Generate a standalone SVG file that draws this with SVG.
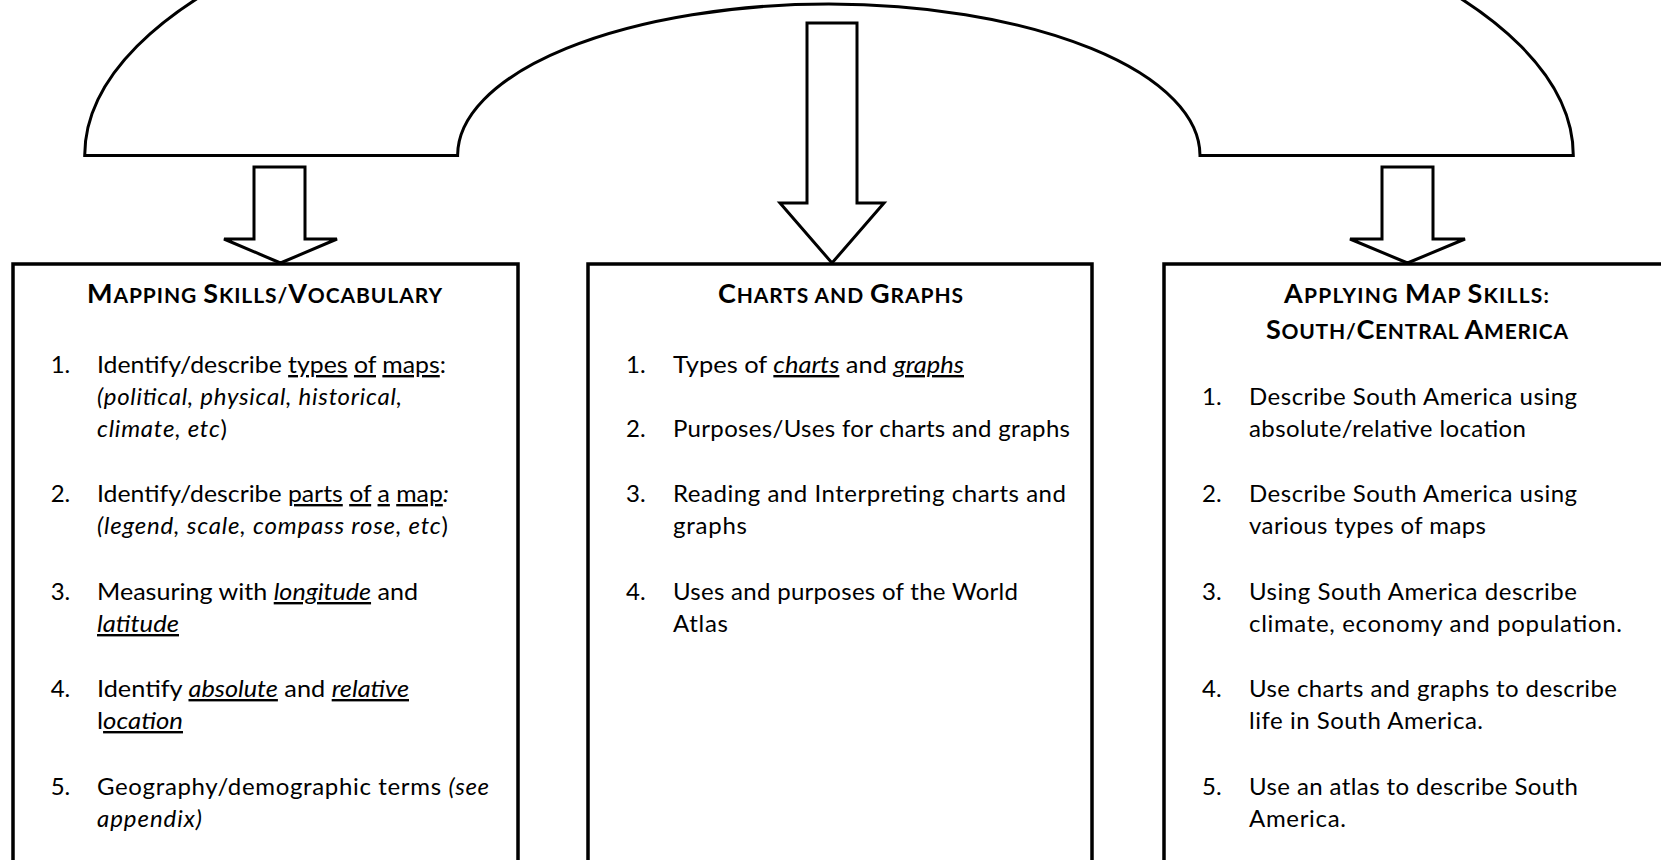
<svg xmlns="http://www.w3.org/2000/svg" width="1661" height="860" viewBox="0 0 1661 860">
<style>
  .line { fill: #fff; stroke: #000; stroke-width: 3; stroke-linejoin: miter; }
  .box { fill: #fff; stroke: #000; stroke-width: 3.5; }
  text { font-family: Lato, "Open Sans", "Liberation Sans", sans-serif; fill: #000; }
  .t { font-size: 24px; }
  .h { font-weight: bold; text-anchor: middle; }
  .cap { font-size: 27px; }
  .sc { font-size: 21px; }
  .i { font-style: italic; }
  .u { text-decoration: underline; }
</style>
<rect width="1661" height="860" fill="#fff"/>
<g id="connectors">
  <path id="brace" class="line" d="M 84.7 155.5 A 744 296.6 0 0 1 1573.3 155.5 L 1200 155.5 A 371.2 151.5 0 0 0 457.6 155.5 Z"/>
  <polygon id="arrow-left" class="line" points="254,167 305,167 305,239 337,239 280.5,263 224,239 254,239"/>
  <polygon id="arrow-mid" class="line" points="807,23 857,23 857,203 884,203 832,263 780,203 807,203"/>
  <polygon id="arrow-right" class="line" points="1382,167 1433,167 1433,239 1465,239 1407.5,263 1350,239 1382,239"/>
</g>
<g id="node-mapping">
  <rect class="box" x="13" y="264" width="505" height="610"/>
  <text class="h" x="264.5" y="302.7" textLength="355" lengthAdjust="spacing"><tspan class="cap">M</tspan><tspan class="sc">APPING </tspan><tspan class="cap">S</tspan><tspan class="sc">KILLS/</tspan><tspan class="cap">V</tspan><tspan class="sc">OCABULARY</tspan></text>
  <g class="t">
    <text x="50.7" y="373">1.</text>
    <text x="97" y="373" textLength="349" lengthAdjust="spacingAndGlyphs">Identify/describe <tspan class="u">types</tspan> <tspan class="u">of</tspan> <tspan class="u">maps</tspan>:</text>
    <text x="97" y="405" class="i" textLength="305" lengthAdjust="spacing">(political, physical, historical,</text>
    <text x="97" y="437" textLength="130" lengthAdjust="spacing"><tspan class="i">climate, etc</tspan>)</text>
    <text x="50.7" y="502">2.</text>
    <text x="97" y="502" textLength="352" lengthAdjust="spacingAndGlyphs">Identify/describe <tspan class="u">parts</tspan> <tspan class="u">of</tspan> <tspan class="u">a</tspan> <tspan class="u">map</tspan><tspan class="i">:</tspan></text>
    <text x="97" y="534" textLength="351" lengthAdjust="spacing"><tspan class="i">(legend, scale, compass rose, etc</tspan>)</text>
    <text x="50.7" y="600">3.</text>
    <text x="97" y="600" textLength="321" lengthAdjust="spacingAndGlyphs">Measuring with <tspan class="i u">longitude</tspan> and</text>
    <text x="97" y="632" textLength="82" lengthAdjust="spacingAndGlyphs"><tspan class="i u">latitude</tspan></text>
    <text x="50.7" y="697">4.</text>
    <text x="97" y="697" textLength="312" lengthAdjust="spacingAndGlyphs">Identify <tspan class="i u">absolute</tspan> and <tspan class="i u">relative</tspan></text>
    <text x="97" y="729" textLength="86" lengthAdjust="spacingAndGlyphs">l<tspan class="i u">ocation</tspan></text>
    <text x="50.7" y="795">5.</text>
    <text x="97" y="795" textLength="392" lengthAdjust="spacing">Geography/demographic terms <tspan class="i">(see</tspan></text>
    <text x="97" y="827" class="i" textLength="105" lengthAdjust="spacing">appendix)</text>
  </g>
</g>
<g id="node-charts">
  <rect class="box" x="588" y="264" width="504" height="610"/>
  <text class="h" x="840.5" y="302.7" textLength="245" lengthAdjust="spacing"><tspan class="cap">C</tspan><tspan class="sc">HARTS AND </tspan><tspan class="cap">G</tspan><tspan class="sc">RAPHS</tspan></text>
  <g class="t">
    <text x="626" y="373">1.</text>
    <text x="673" y="373" textLength="291" lengthAdjust="spacingAndGlyphs">Types of <tspan class="i u">charts</tspan> and <tspan class="i u">graphs</tspan></text>
    <text x="626" y="437">2.</text>
    <text x="673" y="437" textLength="397" lengthAdjust="spacing">Purposes/Uses for charts and graphs</text>
    <text x="626" y="502">3.</text>
    <text x="673" y="502" textLength="393" lengthAdjust="spacing">Reading and Interpreting charts and</text>
    <text x="673" y="534" textLength="74" lengthAdjust="spacing">graphs</text>
    <text x="626" y="600">4.</text>
    <text x="673" y="600" textLength="345" lengthAdjust="spacing">Uses and purposes of the World</text>
    <text x="673" y="632" textLength="55" lengthAdjust="spacing">Atlas</text>
  </g>
</g>
<g id="node-applying">
  <rect class="box" x="1164" y="264" width="506" height="610"/>
  <text class="h" x="1416.5" y="302.7" textLength="265" lengthAdjust="spacing"><tspan class="cap">A</tspan><tspan class="sc">PPLYING </tspan><tspan class="cap">M</tspan><tspan class="sc">AP </tspan><tspan class="cap">S</tspan><tspan class="sc">KILLS:</tspan></text>
  <text class="h" x="1417" y="339" textLength="302" lengthAdjust="spacing"><tspan class="cap">S</tspan><tspan class="sc">OUTH/</tspan><tspan class="cap">C</tspan><tspan class="sc">ENTRAL </tspan><tspan class="cap">A</tspan><tspan class="sc">MERICA</tspan></text>
  <g class="t">
    <text x="1202" y="405">1.</text>
    <text x="1249" y="405" textLength="328" lengthAdjust="spacing">Describe South America using</text>
    <text x="1249" y="437" textLength="277" lengthAdjust="spacing">absolute/relative location</text>
    <text x="1202" y="502">2.</text>
    <text x="1249" y="502" textLength="328" lengthAdjust="spacing">Describe South America using</text>
    <text x="1249" y="534" textLength="237" lengthAdjust="spacing">various types of maps</text>
    <text x="1202" y="600">3.</text>
    <text x="1249" y="600" textLength="328" lengthAdjust="spacing">Using South America describe</text>
    <text x="1249" y="632" textLength="373" lengthAdjust="spacing">climate, economy and population.</text>
    <text x="1202" y="697">4.</text>
    <text x="1249" y="697" textLength="368" lengthAdjust="spacing">Use charts and graphs to describe</text>
    <text x="1249" y="729" textLength="234" lengthAdjust="spacing">life in South America.</text>
    <text x="1202" y="795">5.</text>
    <text x="1249" y="795" textLength="329" lengthAdjust="spacing">Use an atlas to describe South</text>
    <text x="1249" y="827" textLength="97" lengthAdjust="spacing">America.</text>
  </g>
</g>
</svg>
